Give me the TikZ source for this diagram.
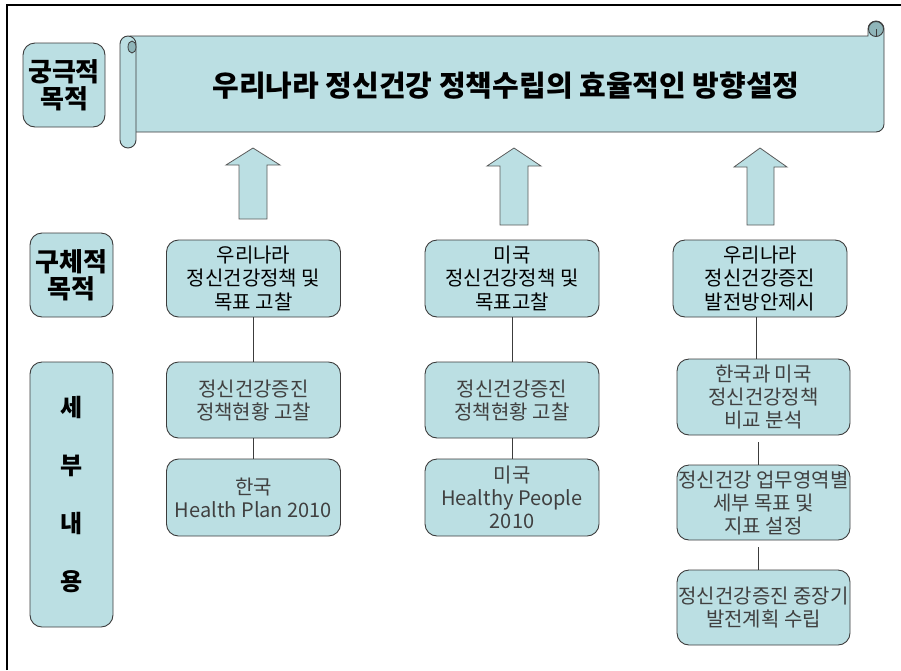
\documentclass[tikz,border=0pt]{standalone}
\usepackage{fontspec}
\setmainfont{Noto Sans CJK KR}
\definecolor{boxfill}{HTML}{BBDFE3}
\definecolor{boxline}{HTML}{3C3C3C}
\definecolor{rollfill}{HTML}{8FB5B9}
\definecolor{arrowline}{HTML}{5A5A5A}
\begin{document}
\begin{tikzpicture}[x=1pt,y=-1pt,
  box/.style={draw=boxline, fill=boxfill, rounded corners=12pt, line width=0.9pt, inner sep=0pt, align=center},
  lbl/.style={box, font=\fontsize{26}{27}\selectfont\bfseries},
  head/.style={box, minimum width=174pt, minimum height=77pt, font=\fontsize{20}{23.5}\selectfont, text=black},
  detail/.style={box, minimum width=174pt, minimum height=76pt, font=\fontsize{20}{23}\selectfont, text=black!75},
  conn/.style={draw=boxline, line width=0.8pt},
  uparrow/.style={draw=arrowline, fill=boxfill, line width=0.8pt, line join=miter},
  scroll/.style={draw=boxline, fill=boxfill, line width=0.9pt},
  frame/.style={draw=black, line width=1.1pt}]
\useasboundingbox (0,0) rectangle (901,670);
% frame
\draw[frame] (7,670) -- (7,5) -- (901,5);
% scroll banner
\filldraw[scroll] (130,36) -- (868,36) -- (868,29) arc[start angle=180,end angle=360,radius=8] -- (884,124) arc[start angle=0,end angle=90,radius=8] -- (130,132) -- cycle;
\filldraw[draw=boxline, fill=rollfill, line width=0.9pt] (876,29) circle[radius=7.5];
\draw[boxline, line width=0.8pt] (876,29) -- (876,36);
\filldraw[scroll] (120,44) arc[start angle=180,end angle=360,radius=8] -- (136,140) arc[start angle=0,end angle=180,radius=8] -- cycle;
\filldraw[draw=boxline, fill=rollfill, line width=0.8pt] (132,47) ellipse[x radius=4, y radius=6];
\node[font=\fontsize{29}{32}\selectfont\bfseries] (title) at (506,86) {우리나라 정신건강 정책수립의 효율적인 방향설정};
% left labels
\node[lbl, minimum width=82pt, minimum height=84pt] (L1) at (64,85) {궁극적\\목적};
\node[lbl, minimum width=83pt, minimum height=84pt] (L2) at (71.5,275) {구체적\\목적};
\node[lbl, minimum width=83pt, minimum height=265pt, font=\fontsize{24}{58}\selectfont\bfseries] (L3) at (71.5,494.5) {세\\부\\내\\용};
% up arrows
\draw[uparrow] (226,165) -- (253,148) -- (280,165) -- (267,165) -- (267,219) -- (239,219) -- (239,165) -- cycle;
\draw[uparrow] (487,166) -- (514,148) -- (541,166) -- (528,166) -- (528,225) -- (500,225) -- (500,166) -- cycle;
\draw[uparrow] (734,167) -- (760,148) -- (787,167) -- (774,167) -- (774,225) -- (747,225) -- (747,167) -- cycle;
% column 1
\node[head] (A1) at (253.5,278.5) {우리나라\\정신건강정책 및\\목표 고찰};
\node[detail] (A2) at (253.5,400) {정신건강증진\\정책현황 고찰};
\node[detail, minimum height=77pt] (A3) at (253.5,497.5) {한국\\Health Plan 2010};
% column 2
\node[head] (B1) at (512,278.5) {미국\\정신건강정책 및\\목표고찰};
\node[detail] (B2) at (512,400) {정신건강증진\\정책현황 고찰};
\node[detail, minimum height=77pt] (B3) at (512,497.5) {미국\\Healthy People\\2010};
% column 3
\node[head] (C1) at (760,278.5) {우리나라\\정신건강증진\\발전방안제시};
\node[detail, minimum width=173pt] (C2) at (763.5,397) {한국과 미국\\정신건강정책\\비교 분석};
\node[detail, minimum width=173pt, minimum height=75pt] (C3) at (763.5,502.5) {정신건강 업무영역별\\세부 목표 및\\지표 설정};
\node[detail, minimum width=173pt, minimum height=75pt] (C4) at (763.5,607.5) {정신건강증진 중장기\\발전계획 수립};
% connectors
\draw[conn] (A1.south) -- (A2.north);
\draw[conn] (A2.south) -- (A3.north);
\draw[conn] (B1.south) -- (B2.north);
\draw[conn] (B2.south) -- (B3.north);
\draw[conn] ([xshift=-4pt]C1.south) -- ([xshift=-4pt]C1.south |- C2.north);
\draw[conn, shorten <=7pt] ([xshift=-5pt]C2.south) -- ([xshift=-5pt]C3.north);
\draw[conn, shorten <=7pt] ([xshift=-5pt]C3.south) -- ([xshift=-5pt]C4.north);
\end{tikzpicture}
\end{document}
